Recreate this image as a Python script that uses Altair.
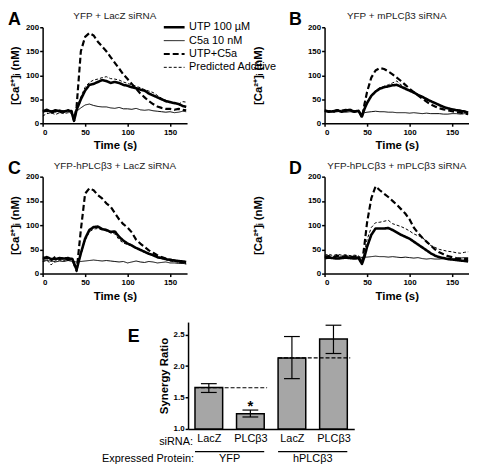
import json
import altair as alt
import pandas as pd

FONT = "Liberation Sans"

SERIES = ["UTP 100 µM", "C5a 10 nM", "UTP+C5a", "Predicted Additive"]
DASHES = [[1, 0], [1, 0], [6, 3], [3, 2]]
WIDTHS = [2.6, 1.0, 2.2, 1.0]

# ---------- Panel A ----------
T_A = [0, 5, 10, 15, 20, 25, 30, 34, 37, 40, 45, 50, 55, 60, 65, 70, 75, 80, 85, 90, 95, 100,
       105, 110, 115, 120, 125, 130, 135, 140, 145, 150, 155, 160, 165, 169]
A_UTP = [25, 28, 24, 27, 25, 24, 27, 24, 5, 28, 50, 68, 80, 82, 86, 90, 88, 84, 86, 84, 80, 78,
         75, 73, 70, 68, 62, 58, 54, 50, 46, 44, 42, 40, 36, 34]
A_C5A = [27, 24, 26, 24, 28, 25, 26, 24, 15, 25, 32, 38, 40, 37, 35, 34, 34, 32, 31, 33, 30, 30,
         29, 31, 28, 27, 28, 26, 25, 24, 23, 24, 22, 23, 25, 24]
A_COMB = [24, 26, 22, 25, 23, 25, 24, 26, 5, 35, 150, 180, 188, 183, 170, 160, 150, 138, 126, 114, 102, 92,
          82, 72, 62, 54, 46, 40, 35, 32, 30, 30, 28, 30, 28, 27]
A_PRED = [15, 20, 22, 18, 22, 20, 22, 20, 8, 30, 55, 75, 85, 90, 92, 95, 97, 93, 92, 90, 86, 83,
          80, 77, 74, 70, 67, 64, 58, 52, 48, 45, 42, 40, 45, 44]

# ---------- Panel B ----------
T_B = [0, 5, 10, 15, 20, 25, 30, 35, 40, 44, 47, 50, 55, 60, 65, 70, 75, 80, 85, 90, 95, 100,
       105, 110, 115, 120, 125, 130, 135, 140, 145, 150, 155, 160, 165, 169]
B_UTP = [26, 24, 25, 27, 24, 26, 28, 24, 26, 14, 30, 42, 57, 66, 72, 75, 77, 79, 80, 76, 72, 68,
         64, 59, 55, 50, 46, 42, 38, 34, 31, 29, 27, 26, 24, 22]
B_C5A = [25, 24, 23, 24, 25, 23, 24, 23, 24, 20, 22, 23, 24, 25, 24, 24, 23, 23, 22, 22, 22, 21,
         22, 21, 20, 21, 20, 20, 20, 19, 19, 20, 20, 19, 20, 19]
B_COMB = [27, 25, 24, 27, 26, 28, 26, 25, 26, 12, 40, 65, 95, 110, 115, 113, 108, 102, 95, 88, 80, 72,
          65, 58, 51, 45, 39, 35, 31, 29, 27, 25, 23, 22, 20, 19]
B_PRED = [25, 27, 23, 26, 27, 25, 27, 26, 24, 13, 32, 44, 58, 68, 74, 77, 80, 84, 88, 80, 74, 69,
          65, 60, 56, 52, 47, 43, 38, 34, 32, 30, 28, 27, 26, 24]

# ---------- Panel C ----------
T_C = [0, 5, 10, 15, 20, 25, 30, 35, 40, 45, 50, 55, 60, 65, 70, 75, 80, 85, 90, 95, 100,
       105, 110, 115, 120, 125, 130, 135, 140, 145, 150, 155, 160, 165, 169]
C_UTP = [32, 34, 30, 30, 32, 31, 32, 30, 8, 42, 72, 90, 96, 97, 92, 90, 86, 87, 76, 68, 62,
         58, 53, 49, 45, 41, 38, 34, 32, 30, 28, 27, 26, 25, 24]
C_C5A = [25, 27, 26, 24, 26, 25, 27, 25, 24, 25, 26, 27, 28, 27, 26, 27, 26, 25, 24, 25, 22,
         24, 26, 24, 23, 25, 24, 22, 23, 24, 22, 22, 21, 21, 20]
C_COMB = [30, 32, 27, 35, 30, 32, 28, 30, 5, 90, 165, 176, 172, 162, 155, 145, 138, 125, 112, 102, 95,
          85, 70, 62, 55, 48, 43, 38, 34, 31, 29, 27, 25, 23, 22]
C_PRED = [25, 28, 18, 26, 28, 27, 30, 28, 10, 40, 68, 86, 92, 93, 90, 88, 84, 82, 70, 63, 60,
          57, 52, 48, 44, 40, 37, 33, 31, 29, 26, 25, 23, 22, 20]

# ---------- Panel D ----------
T_D = T_B
D_UTP = [32, 33, 32, 31, 32, 33, 32, 31, 32, 20, 35, 55, 80, 93, 93, 93, 94, 90, 85, 80, 76, 72,
         66, 60, 54, 48, 42, 37, 34, 32, 30, 29, 28, 27, 26, 25]
D_C5A = [34, 35, 33, 34, 35, 34, 35, 34, 35, 33, 34, 34, 35, 36, 35, 35, 34, 35, 34, 33, 34, 33,
         32, 33, 31, 30, 31, 30, 30, 31, 29, 30, 31, 32, 33, 33]
D_COMB = [35, 36, 34, 37, 35, 36, 34, 35, 36, 20, 60, 105, 155, 180, 172, 165, 158, 150, 142, 133, 124, 112,
          95, 84, 74, 66, 58, 50, 44, 40, 36, 34, 32, 31, 30, 30]
D_PRED = [38, 40, 37, 40, 38, 39, 37, 38, 37, 22, 45, 70, 95, 105, 106, 108, 110, 103, 100, 97, 93, 88,
          82, 78, 76, 64, 58, 54, 50, 48, 46, 45, 43, 42, 44, 45]

# ---------- Panel E ----------
SIRNA = ["LacZ", "PLCβ3", "LacZ", "PLCβ3"]
PROTEIN = ["YFP", "YFP", "hPLCβ3", "hPLCβ3"]
RATIO = [1.66, 1.24, 2.13, 2.43]
LO = [1.58, 1.19, 1.80, 2.20]
HI = [1.72, 1.30, 2.47, 2.65]
GROUPS = ["YFP", "hPLCβ3"]
GROUP_REF = [1.655, 2.13]   # dashed reference level per expressed protein

W = 146
H1 = 97
H2 = 98
HE = 108
WE = 168
BAR_HALF = 0.333   # half bar width, in category units
CAP_HALF = 0.19    # half error-cap width, in category units

LEG = alt.Legend(orient="none", legendX=121, legendY=-6, title=None,
                 symbolType="stroke", symbolSize=441, symbolStrokeColor="black",
                 labelFont=FONT, labelFontSize=11, labelColor="black",
                 labelOffset=3, rowPadding=1.5, clipHeight=12)


def ts_panel(letter, title, times, vals, height, right=False):
    rows = []
    for name, series in zip(SERIES, vals):
        for t, v in zip(times, series):
            rows.append({"t": t, "v": v, "s": name})
    df = pd.DataFrame(rows)
    lines = alt.Chart(df).mark_line(color="black", clip=True, strokeJoin="round").encode(
        x=alt.X("t:Q", scale=alt.Scale(domain=[0, 170], nice=False, zero=False),
                axis=alt.Axis(values=[0, 50, 100, 150], title="Time (s)", titlePadding=4,
                              labelPadding=2)),
        y=alt.Y("v:Q", scale=alt.Scale(domain=[0, 200], nice=False),
                axis=alt.Axis(values=[0, 50, 100, 150, 200], title="[Ca²⁺]ᵢ (nM)",
                              titlePadding=44 if right else 5, labelPadding=1)),
        strokeDash=alt.StrokeDash("s:N", scale=alt.Scale(type="ordinal", domain=SERIES, range=DASHES),
                                  legend=LEG),
        strokeWidth=alt.StrokeWidth("s:N", scale=alt.Scale(type="ordinal", domain=SERIES, range=WIDTHS),
                                    legend=LEG),
    )
    lab = alt.Chart(pd.DataFrame({"l": [letter]})).mark_text(
        fontSize=18, fontWeight="bold", font=FONT, align="left", baseline="alphabetic", color="black"
    ).encode(text="l:N", x=alt.value(-36 if right else -35), y=alt.value(-2.5))
    ttl = alt.Chart(pd.DataFrame({"l": [title]})).mark_text(
        fontSize=10, font=FONT, align="center", baseline="alphabetic", color="#222222"
    ).encode(text="l:N", x=alt.value(W / 2), y=alt.value(-8))
    return alt.layer(lines, lab, ttl).properties(width=W, height=height)


pA = ts_panel("A", "YFP + LacZ siRNA", T_A, [A_UTP, A_C5A, A_COMB, A_PRED], H1)
pB = ts_panel("B", "YFP + mPLCβ3 siRNA", T_B, [B_UTP, B_C5A, B_COMB, B_PRED], H1, right=True)
pC = ts_panel("C", "YFP-hPLCβ3 + LacZ siRNA", T_C, [C_UTP, C_C5A, C_COMB, C_PRED], H2)
pD = ts_panel("D", "YFP-hPLCβ3 + mPLCβ3 siRNA", T_D, [D_UTP, D_C5A, D_COMB, D_PRED], H2, right=True)

# ---------- Bar chart E ----------
idx = list(range(len(SIRNA)))
dfE = pd.DataFrame({"i": idx, "ratio": RATIO, "lo": LO, "hi": HI})
dfE["x0"] = dfE["i"] - BAR_HALF
dfE["x1"] = dfE["i"] + BAR_HALF
dfE["c0"] = dfE["i"] - CAP_HALF
dfE["c1"] = dfE["i"] + CAP_HALF

g_first = [PROTEIN.index(g) for g in GROUPS]
g_last = [len(PROTEIN) - 1 - PROTEIN[::-1].index(g) for g in GROUPS]
dfG = pd.DataFrame({"g": GROUPS, "first": g_first, "last": g_last, "ry": GROUP_REF})
dfG["x0"] = dfG["first"] - BAR_HALF
dfG["x1"] = dfG["last"] + BAR_HALF
dfG["xr1"] = dfG["last"] + BAR_HALF + 0.07
dfG["xm"] = (dfG["first"] + dfG["last"]) / 2

xs = alt.Scale(domain=[-0.5, len(SIRNA) - 0.5], nice=False, zero=False)
ys = alt.Scale(domain=[1.0, 2.7], nice=False, zero=False)
xaxis = alt.Axis(title=None, ticks=False, labelAngle=0, labelFontSize=11, labelFontWeight="normal",
                 labelPadding=4, values=idx, labelFlush=False,
                 labelExpr=json.dumps(SIRNA, ensure_ascii=False) + "[datum.value]")
yaxis = alt.Axis(title="Synergy Ratio", values=[1.0, 1.5, 2.0, 2.5], format=".1f",
                 titlePadding=4, labelPadding=1)


def xq(field):
    return alt.X(field, scale=xs, axis=xaxis)


def yq(field):
    return alt.Y(field, scale=ys, axis=yaxis)


bars = alt.Chart(dfE).mark_bar(fill="#a6a6a6", stroke="black", strokeWidth=1.5).encode(
    x=xq("x0:Q"), x2="x1:Q", y=yq("ratio:Q"), y2=alt.datum(1.0),
)
err = alt.Chart(dfE).mark_rule(color="black", strokeWidth=1.2).encode(
    x=xq("i:Q"), y=yq("lo:Q"), y2="hi:Q",
)
cap_lo = alt.Chart(dfE).mark_rule(color="black", strokeWidth=1.2).encode(
    x=xq("c0:Q"), x2="c1:Q", y=yq("lo:Q"),
)
cap_hi = alt.Chart(dfE).mark_rule(color="black", strokeWidth=1.2).encode(
    x=xq("c0:Q"), x2="c1:Q", y=yq("hi:Q"),
)
refl = alt.Chart(dfG).mark_rule(color="black", strokeWidth=1.2, strokeDash=[4, 2]).encode(
    x=xq("x0:Q"), x2="xr1:Q", y=yq("ry:Q"),
)
underline = alt.Chart(dfG).mark_rule(color="black", strokeWidth=1.3).encode(
    x=xq("x0:Q"), x2="x1:Q", y=alt.value(HE + 23),
)
grp = alt.Chart(dfG).mark_text(font=FONT, fontSize=11, color="black", baseline="middle").encode(
    x=xq("xm:Q"), y=alt.value(HE + 30), text="g:N",
)
star = alt.Chart(pd.DataFrame({"i": [1], "y": [1.29], "t": ["*"]})).mark_text(
    font=FONT, fontSize=15, fontWeight="bold", color="black", baseline="alphabetic"
).encode(x=xq("i:Q"), y=yq("y:Q"), text="t:N")
lab_si = alt.Chart(pd.DataFrame({"t": ["siRNA:"]})).mark_text(
    font=FONT, fontSize=11, color="black", align="right", baseline="middle"
).encode(x=alt.value(5), y=alt.value(HE + 13), text="t:N")
lab_ep = alt.Chart(pd.DataFrame({"t": ["Expressed Protein:"]})).mark_text(
    font=FONT, fontSize=11, color="black", align="right", baseline="middle"
).encode(x=alt.value(6), y=alt.value(HE + 30), text="t:N")
letterE = alt.Chart(pd.DataFrame({"l": ["E"]})).mark_text(
    fontSize=18, fontWeight="bold", font=FONT, align="left", baseline="alphabetic", color="black"
).encode(text="l:N", x=alt.value(-61), y=alt.value(20))

pE = alt.layer(bars, err, cap_lo, cap_hi, refl, underline, grp, star, lab_si, lab_ep, letterE).properties(
    width=WE, height=HE)

blank = alt.Chart(pd.DataFrame({"z": [0]})).mark_point(opacity=0).encode(
    x=alt.X("z:Q", axis=None), y=alt.Y("z:Q", axis=None)).properties(width=10, height=10)

row1 = alt.hconcat(pA, pB, spacing=66)
row2 = alt.hconcat(pC, pD, spacing=66)
rowE = alt.hconcat(blank, pE, spacing=50)
top = alt.vconcat(row1, row2, spacing=8)
chart = alt.vconcat(top, rowE, spacing=20).properties(
    padding={"left": 0, "top": 0, "right": 0, "bottom": 0}
).configure_axis(
    domainColor="black", domainWidth=1.5, tickColor="black", tickWidth=1.5, tickSize=3,
    labelFont=FONT, labelFontSize=8, labelFontWeight="bold", labelColor="black",
    titleFont=FONT, titleFontSize=11.5, titleFontWeight="bold", titleColor="black", grid=False
).configure_view(stroke=None)

chart.save("out.html", embed_options={"renderer": "svg", "actions": False})
